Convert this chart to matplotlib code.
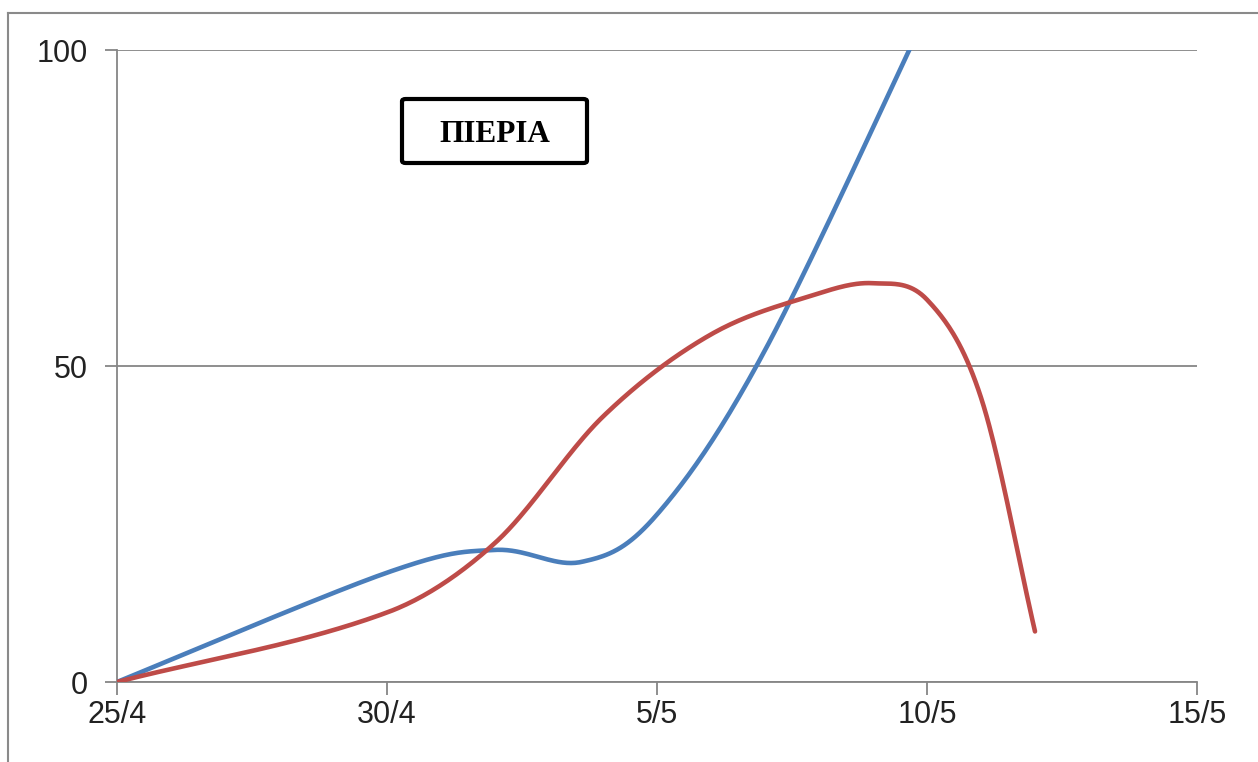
import matplotlib.pyplot as plt
import matplotlib.patches as patches
import numpy as np

# Data (days counted from 25/4)
tick_days = [0, 5, 10, 15, 20]
tick_labels = ['25/4', '30/4', '5/5', '10/5', '15/5']

blue_days = [0, 5, 7, 8.6, 10, 12, 15]
blue_vals = [0, 17.3, 20.9, 19.0, 26.5, 52.5, 106]

red_days = [0, 5, 7, 9, 11, 13, 14, 15, 16, 17]
red_vals = [0, 11, 22, 42, 55, 61.5, 63.1, 60.5, 45, 8]

title = 'ΠΙΕΡΙΑ'

BLUE = '#4a7ebb'
RED = '#be4b48'
GRID = '#868686'


def smooth_param(xs, ys, n=40):
    # Excel-like smoothed line: parametric Catmull-Rom through the points
    p = np.column_stack([xs, ys]).astype(float)
    p = np.vstack([p[0], p, p[-1]])
    out = []
    for i in range(1, len(p) - 2):
        p0, p1, p2, p3 = p[i - 1], p[i], p[i + 1], p[i + 2]
        c1 = p1 + (p2 - p0) / 6
        c2 = p2 - (p3 - p1) / 6
        t = np.linspace(0, 1, n)[:, None]
        seg = ((1 - t) ** 3) * p1 + 3 * ((1 - t) ** 2) * t * c1 \
            + 3 * (1 - t) * t ** 2 * c2 + t ** 3 * p2
        out.append(seg)
    out = np.vstack(out)
    return out[:, 0], out[:, 1]


def smooth_fn(xs, ys, n=40):
    # cubic Hermite in x with finite-difference slopes (no kinks on uneven spacing)
    x = np.asarray(xs, float)
    y = np.asarray(ys, float)
    m = np.empty_like(y)
    m[1:-1] = (y[2:] - y[:-2]) / (x[2:] - x[:-2])
    m[0] = (y[1] - y[0]) / (x[1] - x[0])
    m[-1] = (y[-1] - y[-2]) / (x[-1] - x[-2])
    ox, oy = [], []
    for i in range(len(x) - 1):
        h = x[i + 1] - x[i]
        t = np.linspace(0, 1, n)
        h00 = 2 * t ** 3 - 3 * t ** 2 + 1
        h10 = t ** 3 - 2 * t ** 2 + t
        h01 = -2 * t ** 3 + 3 * t ** 2
        h11 = t ** 3 - t ** 2
        ox.append(x[i] + t * h)
        oy.append(h00 * y[i] + h10 * h * m[i] + h01 * y[i + 1] + h11 * h * m[i + 1])
    return np.concatenate(ox), np.concatenate(oy)


fig = plt.figure(figsize=(12.58, 7.62), dpi=100)
ax = fig.add_axes([117 / 1258, 80 / 762, 1080 / 1258, 632 / 762])

bx, by = smooth_param(blue_days, blue_vals)
rx, ry = smooth_fn(red_days, red_vals)
ax.plot(bx, by, color=BLUE, lw=3.3, solid_capstyle='round', zorder=3)
ax.plot(rx, ry, color=RED, lw=3.3, solid_capstyle='round', zorder=4)

ax.set_xlim(0, 20)
ax.set_ylim(0, 100)
ax.set_xticks(tick_days)
ax.set_xticklabels(tick_labels)
ax.set_yticks([0, 50, 100])

for s in ['top', 'right']:
    ax.spines[s].set_visible(False)
for s in ['left', 'bottom']:
    ax.spines[s].set_color(GRID)
    ax.spines[s].set_linewidth(1.3)
ax.yaxis.grid(True, color=GRID, lw=1.3)
ax.set_axisbelow(True)
ax.tick_params(axis='both', direction='out', length=9, width=1.3, color=GRID,
               labelsize=22, labelcolor='#222222')
ax.tick_params(axis='x', pad=4)
ax.tick_params(axis='y', pad=12)
for lab in ax.get_xticklabels() + ax.get_yticklabels():
    lab.set_fontfamily(['Liberation Sans', 'DejaVu Sans'])

# title box
fig.patches.append(patches.FancyBboxPatch(
    (402 / 1258, 1 - 163 / 762), 185 / 1258, 64 / 762,
    boxstyle='round,pad=0,rounding_size=0.003', transform=fig.transFigure,
    facecolor='white', edgecolor='black', lw=3.0, zorder=5))
fig.text(494.5 / 1258, 1 - 134 / 762, title, ha='center', va='center',
         fontsize=22.5, fontweight='bold', family=['Liberation Serif', 'DejaVu Serif'],
         zorder=6)

# outer chart border (top and left visible)
fig.add_artist(plt.Line2D([8 / 1258, 8 / 1258], [0, 1 - 13 / 762],
                          transform=fig.transFigure, color='#8a8a8a', lw=1.5))
fig.add_artist(plt.Line2D([8 / 1258, 1], [1 - 13 / 762, 1 - 13 / 762],
                          transform=fig.transFigure, color='#8a8a8a', lw=1.5))

fig.savefig('out.png', dpi=100)
